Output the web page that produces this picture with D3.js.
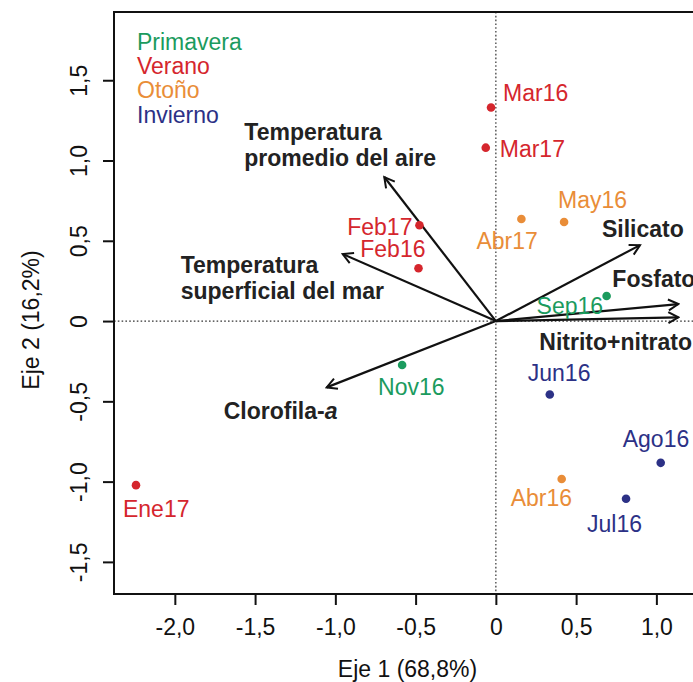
<!DOCTYPE html>
<html>
<head>
<meta charset="utf-8">
<script src="https://cdn.jsdelivr.net/npm/d3@7"></script>
<style>
  html, body { margin: 0; padding: 0; background: #fff; }
  svg { display: block; font-family: "Liberation Sans", Arial, sans-serif; }
</style>
</head>
<body>
<div id="chart"></div>
<script>
// PCA biplot: sampling months (scores) and environmental variables (loadings)

// Season legend
const seasons = ["Primavera", "Verano", "Otoño", "Invierno"];
const seasonColors = ["#1b9b5e", "#d5262d", "#e98d38", "#2c3186"];

// Sample scores on axes 1 and 2
const sampleNames  = ["Mar16", "Mar17", "May16", "Abr17", "Feb17", "Feb16", "Sep16", "Nov16", "Jun16", "Ago16", "Abr16", "Jul16", "Ene17"];
const sampleSeason = ["Verano", "Verano", "Otoño", "Otoño", "Verano", "Verano", "Primavera", "Primavera", "Invierno", "Invierno", "Otoño", "Invierno", "Verano"];
const sampleX = [-0.03, -0.063, 0.425, 0.159, -0.476, -0.482, 0.69, -0.584, 0.336, 1.027, 0.41, 0.811, -2.242];
const sampleY = [1.33, 1.08, 0.617, 0.636, 0.597, 0.329, 0.156, -0.274, -0.457, -0.883, -0.984, -1.107, -1.022];

// Variable loadings (arrow tips)
const variableNames = [
  ["Temperatura", "promedio del aire"],
  ["Temperatura", "superficial del mar"],
  ["Clorofila-a"],
  ["Silicato"],
  ["Fosfato"],
  ["Nitrito+nitrato"]
];
const variableX = [-0.695, -0.954, -1.054, 0.898, 1.137, 1.137];
const variableY = [0.897, 0.417, -0.413, 0.473, 0.106, 0.023];

// Axis ticks
const xTicks = [-2.0, -1.5, -1.0, -0.5, 0, 0.5, 1.0];
const yTicks = [-1.5, -1.0, -0.5, 0, 0.5, 1.0, 1.5];
const xTitle = "Eje 1 (68,8%)";
const yTitle = "Eje 2 (16,2%)";

// Label placement (pixel offsets from the mark)
const sampleLabelOffset = {
  Mar16: [12, -7, "start"], Mar17: [14, 9, "start"], May16: [-6, -14, "start"],
  Abr17: [-45, 30, "start"], Feb17: [-7, 10, "end"], Feb16: [7, -11, "end"],
  Sep16: [-70, 18, "start"], Nov16: [-24, 30, "start"], Jun16: [-22, -13, "start"],
  Ago16: [-38, -16, "start"], Abr16: [-51, 27, "start"], Jul16: [-39, 33, "start"],
  Ene17: [-13, 32, "start"]
};
const variableLabelOffset = [[-140, -37], [-162, 19], [-103, 32], [-38, -8], [-66, -17], [-139, 33]];

const W = 693, H = 682;
const box = { left: 114, right: 701, top: 12, bottom: 594 };
const FS = 23;

const x = d3.scaleLinear().domain([-2.379, 1.278]).range([box.left, box.right]);
const y = d3.scaleLinear().domain([-1.70, 1.925]).range([box.bottom, box.top]);
const color = d3.scaleOrdinal().domain(seasons).range(seasonColors);
const fmt = v => v === 0 ? "0" : d3.format(".1f")(v).replace(".", ",").replace("−", "-");

const svg = d3.select("#chart").append("svg").attr("width", W).attr("height", H);

svg.append("defs").append("marker")
  .attr("id", "arrowhead").attr("viewBox", "-12 -8 14 16")
  .attr("refX", 0).attr("refY", 0)
  .attr("markerWidth", 14).attr("markerHeight", 16)
  .attr("markerUnits", "userSpaceOnUse").attr("orient", "auto")
  .append("path").attr("d", "M-10,-5.5 L0,0 L-10,5.5")
  .attr("fill", "none").attr("stroke", "#111").attr("stroke-width", 2);

// Reference lines through the origin
svg.append("line")
  .attr("x1", x(0)).attr("x2", x(0)).attr("y1", box.top).attr("y2", box.bottom)
  .attr("stroke", "#333").attr("stroke-width", 1.2).attr("stroke-dasharray", "1.6,2.2");
svg.append("line")
  .attr("x1", box.left).attr("x2", box.right).attr("y1", y(0)).attr("y2", y(0))
  .attr("stroke", "#333").attr("stroke-width", 1.2).attr("stroke-dasharray", "1.6,2.2");

// Axes
const xAxis = d3.axisBottom(x).tickValues(xTicks).tickSize(11).tickPadding(14).tickFormat(fmt);
const gx = svg.append("g").attr("transform", `translate(0,${box.bottom})`).call(xAxis);
gx.select(".domain").remove();
gx.selectAll(".tick line").attr("stroke", "#111").attr("stroke-width", 2);
gx.selectAll(".tick text").attr("font-size", FS).attr("fill", "#111")
  .attr("font-family", "'Liberation Sans', Arial, sans-serif");

const yAxis = d3.axisLeft(y).tickValues(yTicks).tickSize(11).tickFormat(fmt);
const gy = svg.append("g").attr("transform", `translate(${box.left},0)`).call(yAxis);
gy.select(".domain").remove();
gy.selectAll(".tick line").attr("stroke", "#111").attr("stroke-width", 2);
gy.selectAll(".tick text")
  .attr("font-size", FS).attr("fill", "#111")
  .attr("font-family", "'Liberation Sans', Arial, sans-serif")
  .attr("x", null).attr("dy", null)
  .attr("text-anchor", "middle")
  .attr("transform", "translate(-27,0) rotate(-90)");

// Plot frame
svg.append("rect")
  .attr("x", box.left).attr("y", box.top)
  .attr("width", box.right - box.left).attr("height", box.bottom - box.top)
  .attr("fill", "none").attr("stroke", "#111").attr("stroke-width", 2);

// Axis titles
svg.append("text").attr("x", (box.left + box.right) / 2).attr("y", 677)
  .attr("text-anchor", "middle").attr("font-size", FS).attr("fill", "#111").text(xTitle);
svg.append("text").attr("transform", `translate(39,320) rotate(-90)`)
  .attr("text-anchor", "middle").attr("font-size", FS).attr("fill", "#111").text(yTitle);

// Legend
svg.append("g").selectAll("text").data(seasons).join("text")
  .attr("x", 137).attr("y", (d, i) => 50 + i * 24.2)
  .attr("font-size", FS).attr("fill", d => color(d)).text(d => d);

// Variable arrows
const vars = variableNames.map((n, i) => ({ name: n, vx: variableX[i], vy: variableY[i], off: variableLabelOffset[i] }));
svg.append("g").selectAll("line").data(vars).join("line")
  .attr("x1", x(0)).attr("y1", y(0))
  .attr("x2", d => x(d.vx)).attr("y2", d => y(d.vy))
  .attr("stroke", "#111").attr("stroke-width", 2.2)
  .attr("marker-end", "url(#arrowhead)");

const vlab = svg.append("g").selectAll("text").data(vars).join("text")
  .attr("x", d => x(d.vx) + d.off[0]).attr("y", d => y(d.vy) + d.off[1])
  .attr("font-size", FS).attr("font-weight", "bold").attr("fill", "#222");
vlab.each(function (d) {
  const t = d3.select(this);
  d.name.forEach((line, k) => {
    const ts = t.append("tspan").attr("x", x(d.vx) + d.off[0]).attr("dy", k === 0 ? 0 : 25.5);
    if (line.endsWith("-a")) {
      ts.text(line.slice(0, -1));
      t.append("tspan").attr("font-style", "italic").text("a");
    } else {
      ts.text(line);
    }
  });
});

// Sample points and labels
const samples = sampleNames.map((n, i) => ({ name: n, season: sampleSeason[i], sx: sampleX[i], sy: sampleY[i] }));
svg.append("g").selectAll("circle").data(samples).join("circle")
  .attr("cx", d => x(d.sx)).attr("cy", d => y(d.sy)).attr("r", 4.3)
  .attr("fill", d => color(d.season));
svg.append("g").selectAll("text").data(samples).join("text")
  .attr("x", d => x(d.sx) + sampleLabelOffset[d.name][0])
  .attr("y", d => y(d.sy) + sampleLabelOffset[d.name][1])
  .attr("text-anchor", d => sampleLabelOffset[d.name][2])
  .attr("font-size", FS).attr("fill", d => color(d.season)).text(d => d.name);
</script>
</body>
</html>
